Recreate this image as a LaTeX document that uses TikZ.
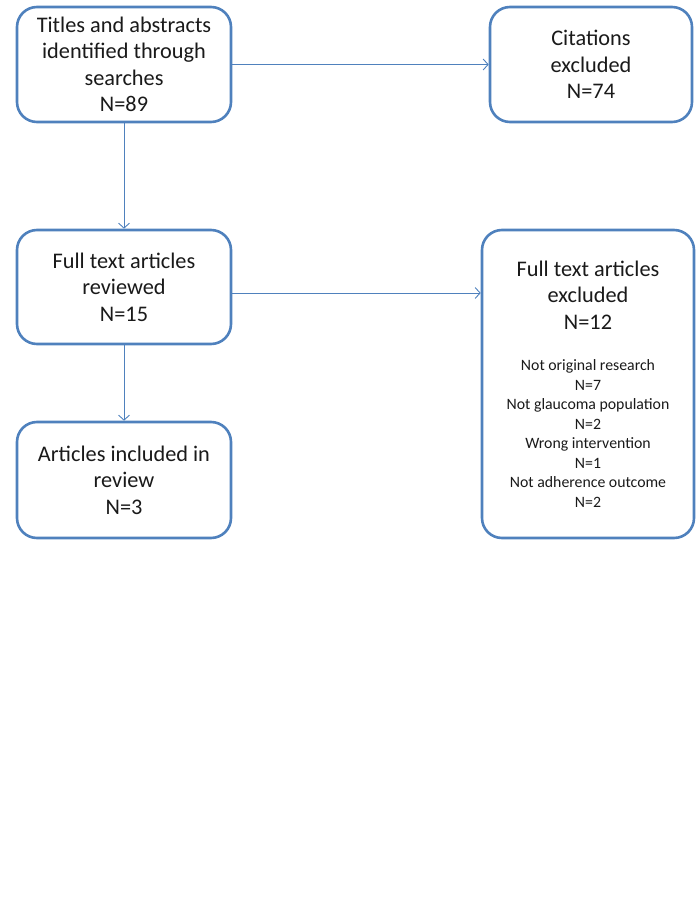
\documentclass[tikz,border=0pt]{standalone}
\usepackage{fontspec}
\setmainfont{Carlito}
\usepackage{xcolor}
\usetikzlibrary{arrows.meta,positioning}
\definecolor{boxline}{HTML}{4F81BD}
\definecolor{textink}{HTML}{1A1A1A}
\newcommand\notefont{\fontsize{15.8}{19}\selectfont}

\begin{document}
\begin{tikzpicture}[x=1pt,y=-1pt,>={Straight Barb[length=5pt,width=11pt]},
  flowbox/.style={draw=boxline,line width=2.6pt,rounded corners=20pt,fill=white,
    align=center,text=textink,inner sep=0pt,font=\fontsize{22.3}{26.5}\selectfont},
  link/.style={->,draw=boxline,line width=0.9pt}]
\useasboundingbox (0,0) rectangle (699,909);
\node[flowbox,minimum width=214pt,minimum height=115pt] (found) at (124,64.5) {Titles and abstracts\\identified through\\searches\\N=89};
\node[flowbox,minimum width=202pt,minimum height=115pt] (cited) at (591,64.5) {Citations\\excluded\\N=74};
\node[flowbox,minimum width=214pt,minimum height=114pt] (full) at (124,287) {Full text articles\\reviewed\\N=15};
\node[flowbox,minimum width=212pt,minimum height=308pt] (dropped) at (588,384) {Full text articles\\excluded\\N=12\\[15pt]
  \notefont Not original research\\[-7pt]\notefont N=7\\[-7pt]\notefont Not glaucoma population\\[-7pt]\notefont N=2\\[-7pt]
  \notefont Wrong intervention\\[-7pt]\notefont N=1\\[-7pt]\notefont Not adherence outcome\\[-7pt]\notefont N=2};
\node[flowbox,minimum width=214pt,minimum height=116pt] (kept) at (124,480) {Articles included in\\review\\N=3};
\draw[link] (found.east) -- (cited.west);
\draw[link] (found.south) -- (full.north);
\draw[link] ([yshift=-6pt]full.east) -- ([yshift=-6pt]full.east -| dropped.west);
\draw[link] (full.south) -- (kept.north);
\end{tikzpicture}
\end{document}
